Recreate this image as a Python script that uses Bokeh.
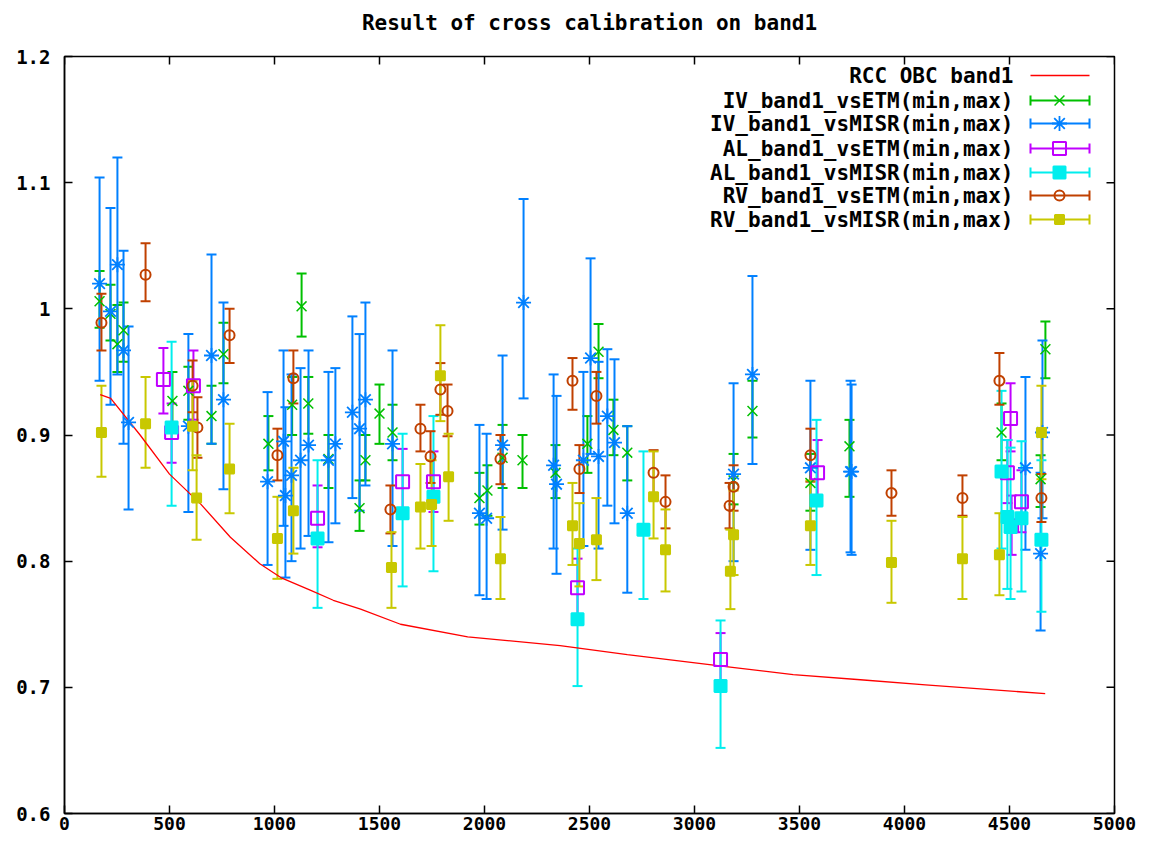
from bokeh.plotting import figure
from bokeh.models import (ColumnDataSource, Whisker, TeeHead, Range1d, LinearAxis,
                          FixedTicker, Label)
from bokeh.embed import file_html
from bokeh.resources import INLINE

TITLE = "Result of cross calibration on band1"
FONT = "DejaVu Sans Mono"

x_ticks = [0, 500, 1000, 1500, 2000, 2500, 3000, 3500, 4000, 4500, 5000]
x_tick_labels = ["0", "500", "1000", "1500", "2000", "2500", "3000", "3500", "4000", "4500", "5000"]
y_ticks = [0.6, 0.7, 0.8, 0.9, 1.0, 1.1, 1.2]
y_tick_labels = ["0.6", "0.7", "0.8", "0.9", "1", "1.1", "1.2"]

# RCC OBC band1 (red line)
obc_x = [170, 220, 360, 500, 650, 790, 930, 1030, 1170, 1280, 1410, 1600, 1920, 2360, 2680,
         3120, 3470, 3790, 4100, 4670]
obc_y = [0.932, 0.929, 0.900, 0.869, 0.845, 0.819, 0.798, 0.787, 0.777, 0.769, 0.762, 0.750,
         0.740, 0.733, 0.726, 0.717, 0.710, 0.706, 0.702, 0.695]

# IV_band1_vsETM
iv_etm_x = [167, 219, 252, 281, 514, 590, 700, 757, 971, 1084, 1129, 1161, 1257, 1405, 1433,
            1500, 1562, 1976, 2014, 2086, 2181, 2338, 2490, 2543, 2614, 2680, 3186, 3276, 3552,
            3738, 4462, 4648, 4671]
iv_etm_y = [1.006, 0.996, 0.972, 0.983, 0.927, 0.935, 0.915, 0.964, 0.893, 0.924, 1.002, 0.925,
            0.881, 0.842, 0.880, 0.917, 0.902, 0.850, 0.856, 0.882, 0.880, 0.870, 0.893, 0.966,
            0.904, 0.886, 0.864, 0.919, 0.862, 0.891, 0.902, 0.865, 0.968]
iv_etm_lo = [0.985, 0.975, 0.950, 0.958, 0.905, 0.912, 0.893, 0.941, 0.872, 0.900, 0.978, 0.901,
             0.858, 0.824, 0.864, 0.893, 0.880, 0.829, 0.836, 0.858, 0.858, 0.850, 0.870, 0.945,
             0.884, 0.864, 0.845, 0.898, 0.840, 0.851, 0.880, 0.843, 0.945]
iv_etm_hi = [1.030, 1.019, 1.003, 1.005, 0.950, 0.954, 0.939, 0.989, 0.915, 0.946, 1.028, 0.946,
             0.900, 0.864, 0.900, 0.940, 0.924, 0.870, 0.876, 0.908, 0.900, 0.892, 0.915, 0.988,
             0.928, 0.907, 0.885, 0.943, 0.885, 0.912, 0.925, 0.884, 0.990]

# IV_band1_vsMISR
iv_misr_x = [167, 219, 252, 281, 305, 590, 700, 757, 967, 1043, 1052, 1081, 1124, 1162, 1257,
             1290, 1371, 1405, 1433, 1562, 1976, 2010, 2086, 2186, 2329, 2343, 2471, 2505, 2543,
             2585, 2619, 2680, 3186, 3276, 3552, 3743, 3748, 4576, 4657, 4648]
iv_misr_y = [1.020, 0.998, 1.035, 0.967, 0.910, 0.907, 0.963, 0.928, 0.863, 0.895, 0.852, 0.868,
             0.880, 0.892, 0.880, 0.893, 0.918, 0.905, 0.928, 0.893, 0.838, 0.834, 0.892, 1.005,
             0.876, 0.861, 0.880, 0.961, 0.883, 0.915, 0.894, 0.838, 0.869, 0.948, 0.874, 0.871,
             0.871, 0.874, 0.902, 0.806]
iv_misr_lo = [0.943, 0.924, 0.948, 0.893, 0.841, 0.839, 0.893, 0.857, 0.797, 0.828, 0.787, 0.800,
              0.810, 0.820, 0.815, 0.830, 0.850, 0.840, 0.860, 0.812, 0.773, 0.770, 0.825, 0.929,
              0.810, 0.790, 0.812, 0.885, 0.810, 0.844, 0.830, 0.775, 0.800, 0.877, 0.809, 0.807,
              0.805, 0.809, 0.834, 0.745]
iv_misr_hi = [1.104, 1.080, 1.120, 1.046, 0.986, 0.980, 1.043, 1.005, 0.934, 0.967, 0.922, 0.948,
              0.953, 0.967, 0.950, 0.953, 0.994, 0.980, 1.005, 0.967, 0.908, 0.901, 0.963, 1.087,
              0.948, 0.931, 0.950, 1.040, 0.958, 0.968, 0.960, 0.907, 0.941, 1.026, 0.943, 0.943,
              0.940, 0.946, 0.975, 0.870]

# AL_band1_vsETM
al_etm_x = [471, 510, 614, 1205, 1610, 1757, 2443, 3124, 3586, 4490, 4505, 4557, 4510]
al_etm_y = [0.944, 0.902, 0.939, 0.834, 0.863, 0.863, 0.779, 0.722, 0.870, 0.870, 0.913, 0.847, 0.828]
al_etm_lo = [0.917, 0.878, 0.912, 0.811, 0.838, 0.839, 0.755, 0.698, 0.846, 0.846, 0.887, 0.823, 0.805]
al_etm_hi = [0.969, 0.925, 0.967, 0.860, 0.889, 0.887, 0.802, 0.743, 0.896, 0.896, 0.941, 0.872, 0.852]

# AL_band1_vsMISR
al_misr_x = [510, 1205, 1610, 1757, 2443, 2757, 3124, 3581, 4462, 4490, 4505, 4557, 4652]
al_misr_y = [0.906, 0.818, 0.838, 0.851, 0.754, 0.825, 0.701, 0.848, 0.871, 0.835, 0.827, 0.834, 0.817]
al_misr_lo = [0.844, 0.763, 0.780, 0.792, 0.701, 0.770, 0.652, 0.789, 0.810, 0.778, 0.770, 0.776, 0.760]
al_misr_hi = [0.974, 0.880, 0.901, 0.915, 0.810, 0.887, 0.753, 0.912, 0.935, 0.896, 0.890, 0.895, 0.880]

# RV_band1_vsETM
rv_etm_x = [176, 386, 610, 633, 786, 1014, 1090, 1552, 1695, 1743, 1790, 1824, 2076, 2419, 2452,
            2533, 2805, 2862, 3167, 3186, 3552, 3938, 4276, 4452, 4652]
rv_etm_y = [0.989, 1.027, 0.939, 0.906, 0.979, 0.884, 0.945, 0.841, 0.905, 0.883, 0.936, 0.919,
            0.881, 0.943, 0.873, 0.931, 0.870, 0.847, 0.844, 0.859, 0.884, 0.854, 0.850, 0.943, 0.850]
rv_etm_lo = [0.967, 1.006, 0.918, 0.882, 0.957, 0.864, 0.925, 0.822, 0.887, 0.862, 0.916, 0.899,
             0.861, 0.920, 0.854, 0.909, 0.850, 0.826, 0.826, 0.840, 0.863, 0.836, 0.836, 0.924, 0.831]
rv_etm_hi = [1.012, 1.052, 0.959, 0.930, 1.000, 0.905, 0.967, 0.860, 0.924, 0.903, 0.957, 0.940,
             0.900, 0.961, 0.892, 0.950, 0.888, 0.868, 0.862, 0.876, 0.905, 0.872, 0.868, 0.965, 0.869]

# RV_band1_vsMISR
rv_misr_x = [176, 386, 610, 629, 786, 1014, 1090, 1557, 1695, 1748, 1790, 1829, 2076, 2419, 2452,
             2533, 2805, 2862, 3171, 3186, 3552, 3938, 4276, 4452, 4652]
rv_misr_y = [0.902, 0.909, 0.907, 0.850, 0.873, 0.818, 0.840, 0.795, 0.843, 0.845, 0.947, 0.867,
             0.802, 0.828, 0.814, 0.817, 0.851, 0.809, 0.792, 0.821, 0.828, 0.799, 0.802, 0.805, 0.902]
rv_misr_lo = [0.867, 0.874, 0.872, 0.817, 0.838, 0.786, 0.806, 0.763, 0.810, 0.812, 0.911, 0.832,
              0.770, 0.797, 0.780, 0.785, 0.818, 0.776, 0.762, 0.789, 0.797, 0.767, 0.770, 0.773, 0.865]
rv_misr_hi = [0.939, 0.946, 0.943, 0.884, 0.909, 0.851, 0.874, 0.823, 0.877, 0.880, 0.987, 0.901,
              0.835, 0.862, 0.846, 0.850, 0.887, 0.841, 0.825, 0.856, 0.864, 0.832, 0.835, 0.838, 0.939]

series_names = ["IV_band1_vsETM(min,max)", "IV_band1_vsMISR(min,max)", "AL_band1_vsETM(min,max)",
                "AL_band1_vsMISR(min,max)", "RV_band1_vsETM(min,max)", "RV_band1_vsMISR(min,max)"]
obc_name = "RCC OBC band1"

X0, X1, Y0, Y1 = 0, 5000, 0.6, 1.2
W, H = 1141, 837
BL, BR, BT, BB = 64, 27, 56, 24
FW = W - BL - BR
FH = H - BT - BB
TICK = 8

p = figure(width=W, height=H, output_backend="svg", toolbar_location=None,
           x_range=Range1d(X0, X1), y_range=Range1d(Y0, Y1),
           min_border_left=BL, min_border_right=BR, min_border_top=BT, min_border_bottom=BB,
           background_fill_color="white", border_fill_color="white")
p.grid.visible = False
p.outline_line_color = "black"
p.outline_line_width = 1.5

def style_axis(ax, labels, ticks, size):
    ax.ticker = FixedTicker(ticks=ticks)
    ax.major_label_overrides = {t: l for t, l in zip(ticks, labels)}
    ax.major_tick_in = TICK
    ax.major_tick_out = 0
    ax.minor_tick_in = 0
    ax.minor_tick_out = 0
    ax.axis_line_color = "black"
    ax.axis_line_width = 1.5
    ax.major_tick_line_color = "black"
    ax.major_tick_line_width = 1.5
    ax.major_label_text_font = FONT
    ax.major_label_text_font_style = "bold"
    ax.major_label_text_color = "black"
    ax.major_label_text_font_size = size

style_axis(p.xaxis[0], x_tick_labels, x_ticks, "18px")
p.xaxis[0].major_label_standoff = 3
style_axis(p.yaxis[0], y_tick_labels, y_ticks, "19px")
p.yaxis[0].major_label_standoff = 14

# title: carried by a tick-less axis above the frame
title_ax = LinearAxis(ticker=FixedTicker(ticks=[]), axis_label=TITLE,
                      axis_label_standoff=22, axis_label_text_font=FONT,
                      axis_label_text_font_size="21px", axis_label_text_font_style="bold",
                      axis_label_text_color="black", major_tick_in=0, major_tick_out=0,
                      minor_tick_in=0, minor_tick_out=0, major_label_standoff=0,
                      axis_line_color=None)
p.add_layout(title_ax, "above")

# mirrored inner ticks on top and right edges
tick_dx = TICK / FW * (X1 - X0)
tick_dy = TICK / FH * (Y1 - Y0)
p.segment(x0=x_ticks, x1=x_ticks, y0=[Y1] * len(x_ticks), y1=[Y1 - tick_dy] * len(x_ticks),
          line_color="black", line_width=1.5)
p.segment(x0=[X1] * len(y_ticks), x1=[X1 - tick_dx] * len(y_ticks), y0=y_ticks, y1=y_ticks,
          line_color="black", line_width=1.5)

# red line
p.line(obc_x, obc_y, line_color="#ff0000", line_width=1.3)

specs = [
    (iv_etm_x, iv_etm_y, iv_etm_lo, iv_etm_hi, "#00c000", "x", 14, False, 1.5),
    (iv_misr_x, iv_misr_y, iv_misr_lo, iv_misr_hi, "#0080ff", "asterisk", 15, False, 1.8),
    (al_etm_x, al_etm_y, al_etm_lo, al_etm_hi, "#c000ff", "square", 13, False, 2),
    (al_misr_x, al_misr_y, al_misr_lo, al_misr_hi, "#00eeee", "square", 12, True, 2),
    (rv_etm_x, rv_etm_y, rv_etm_lo, rv_etm_hi, "#c04000", "circle", 10, False, 2),
    (rv_misr_x, rv_misr_y, rv_misr_lo, rv_misr_hi, "#c8c800", "square", 9, True, 2),
]

for xs, ys, lo, hi, col, mk, sz, filled, mlw in specs:
    src = ColumnDataSource(dict(x=xs, y=ys, lo=lo, hi=hi))
    wk = Whisker(source=src, base="x", lower="lo", upper="hi", dimension="height",
                 line_color=col, line_width=2,
                 upper_head=TeeHead(size=10, line_color=col, line_width=2),
                 lower_head=TeeHead(size=10, line_color=col, line_width=2))
    p.add_layout(wk)
    p.scatter("x", "y", source=src, marker=mk, size=sz, line_color=col, line_width=mlw,
              fill_color=col if filled else None)

# pixel -> data helpers for legend placement
def dx(px):
    return X0 + (px - BL) / FW * (X1 - X0)

def dy(py):
    return Y1 - (py - BT) / FH * (Y1 - Y0)

# custom legend (text on the left, sample on the right, as in gnuplot)
TEXT_R = 1013
SAMP_L, SAMP_R, SAMP_C = 1030, 1089, 1059
row_py = [75, 100, 123, 148, 172, 195, 219]
names = [obc_name] + series_names

for i, nm in enumerate(names):
    p.add_layout(Label(x=dx(TEXT_R), y=dy(row_py[i]), text=nm, text_align="right",
                       text_baseline="middle", text_font=FONT, text_font_size="21px",
                       text_font_style="bold", text_color="black"))

p.line([dx(SAMP_L), dx(SAMP_R)], [dy(row_py[0])] * 2, line_color="#ff0000", line_width=1.3)
for i, (xs, ys, lo, hi, col, mk, sz, filled, mlw) in enumerate(specs):
    yy = dy(row_py[i + 1])
    lsrc = ColumnDataSource(dict(b=[yy], l=[dx(SAMP_L)], u=[dx(SAMP_R)], cx=[dx(SAMP_C)], cy=[yy]))
    p.add_layout(Whisker(source=lsrc, base="b", lower="l", upper="u", dimension="width",
                         line_color=col, line_width=2,
                         upper_head=TeeHead(size=10, line_color=col, line_width=2),
                         lower_head=TeeHead(size=10, line_color=col, line_width=2)))
    p.scatter("cx", "cy", source=lsrc, marker=mk, size=sz, line_color=col, line_width=mlw,
              fill_color=col if filled else None)

open("out.html", "w").write(file_html(p, INLINE))
